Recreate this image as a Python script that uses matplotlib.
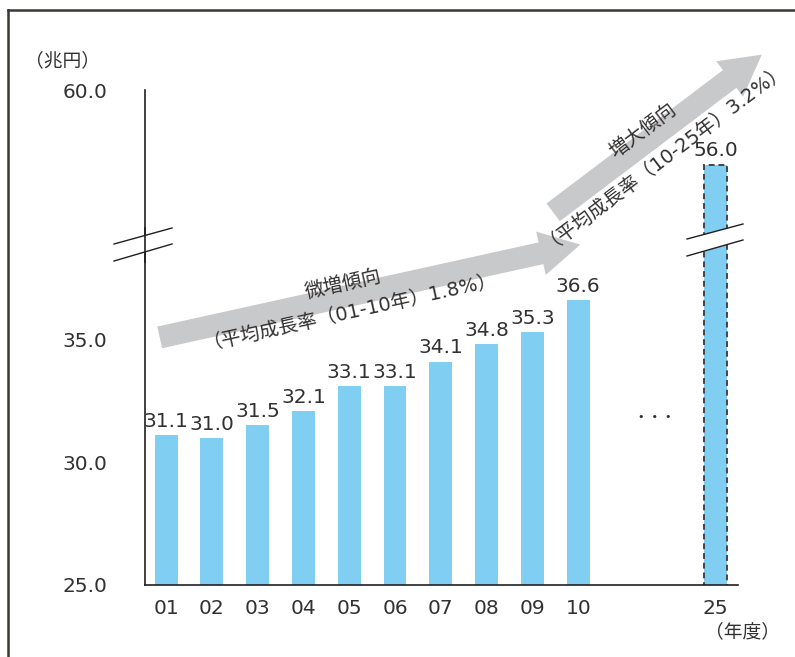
import numpy as np
import matplotlib
matplotlib.use('Agg')
import matplotlib.pyplot as plt
from matplotlib.patches import FancyArrowPatch, Polygon
from matplotlib.lines import Line2D

plt.rcParams['font.family'] = ['DejaVu Sans', 'Noto Sans CJK JP']

years = ['01', '02', '03', '04', '05', '06', '07', '08', '09', '10', '25']
values = [31.1, 31.0, 31.5, 32.1, 33.1, 33.1, 34.1, 34.8, 35.3, 36.6, 56.0]
ytick_vals = [25, 30, 35, 60]
ytick_labels = ['25.0', '30.0', '35.0', '60.0']
trend1 = ['微増傾向', '（平均成長率（01-10年）1.8%）']
trend2 = ['増大傾向', '（平均成長率（10-25年）3.2%）']

txt = '#333030'
bar_color = '#80cef2'
arrow_gray = '#c8c9ca'

W, H = 795, 657
fig = plt.figure(figsize=(W / 100, H / 100), dpi=100)


def fx(x):
    return x / W


def fy(y):
    return 1 - y / H


ax = fig.add_axes([fx(145), fy(585), fx(738) - fx(145), (585 - 90) / H])

# broken y scale: lower part linear, gap squeezed, upper part compressed
B, U, eps = 38.7, 51.5, 0.001
top_pos = 25 + (585 - 90) / 24.55
k = (top_pos - B - (U - B) * eps) / (60 - U)


def fwd(v):
    v = np.asarray(v, dtype=float)
    return np.where(v <= B, v,
                    np.where(v <= U, B + (v - B) * eps,
                             B + (U - B) * eps + (v - U) * k))


def inv(f):
    f = np.asarray(f, dtype=float)
    g = B + (U - B) * eps
    return np.where(f <= B, f,
                    np.where(f <= g, B + (f - B) / eps, U + (f - g) / k))


ax.set_yscale('function', functions=(fwd, inv))

pos = list(range(10)) + [12]
bars = ax.bar(pos, values, width=0.5, color=bar_color, zorder=2)
last = bars[-1]
last.set_edgecolor('#444444')
last.set_linestyle((0, (3, 2)))
last.set_linewidth(1.4)

for p, v in zip(pos, values):
    ax.annotate(f'{v:.1f}', (p, v), xytext=(0, 3), textcoords='offset points',
                ha='center', va='bottom', fontsize=14.5, color=txt)

ax.set_xlim(-0.46, 12.49)
ax.set_ylim(25, 60)
ax.set_yticks(ytick_vals)
ax.set_yticklabels(ytick_labels)
ax.set_xticks(pos)
ax.set_xticklabels(years)
ax.yaxis.set_minor_locator(matplotlib.ticker.NullLocator())
ax.tick_params(axis='y', length=0, pad=27, labelsize=14.5, labelcolor=txt)
ax.tick_params(axis='x', length=0, pad=10, labelsize=14.5, labelcolor=txt)
for s in ['top', 'right']:
    ax.spines[s].set_visible(False)
for s in ['left', 'bottom']:
    ax.spines[s].set_color('#231f20')
    ax.spines[s].set_linewidth(1.2)

ax.text(0.86, 0.34, '•  •  •', transform=ax.transAxes, ha='center', va='center',
        fontsize=8, color=txt)

# break marks
ax_break = [(114, 244, 172, 228), (114, 261, 172, 244)]
bar_break = [(687, 239, 743, 224), (687, 256, 743, 240)]
for (x0, y0, x1, y1), (x2, y2, x3, y3) in [ax_break, bar_break]:
    gap = Polygon([(fx(x0), fy(y0)), (fx(x1), fy(y1)), (fx(x3), fy(y3)), (fx(x2), fy(y2))],
                  closed=True, facecolor='white', edgecolor='none',
                  transform=fig.transFigure, zorder=5)
    fig.add_artist(gap)
    for a, b, c, d in [(x0, y0, x1, y1), (x2, y2, x3, y3)]:
        fig.add_artist(Line2D([fx(a), fx(c)], [fy(b), fy(d)], color='#231f20',
                              lw=1.0, transform=fig.transFigure, zorder=6))
# keep spine visible through the axis break
fig.add_artist(Line2D([fx(145), fx(145)], [fy(228), fy(262)], color='#231f20',
                      lw=1.2, transform=fig.transFigure, zorder=7))

# trend arrows
for (x0, y0, x1, y1) in [(157, 338, 583, 244), (551, 214, 764, 53)]:
    arr = FancyArrowPatch((fx(x0), fy(y0)), (fx(x1), fy(y1)), transform=fig.transFigure,
                          arrowstyle='simple,head_width=32,head_length=29,tail_width=16',
                          mutation_scale=1, color=arrow_gray, lw=0, zorder=3)
    fig.add_artist(arr)

fig.text(fx(343), fy(284), trend1[0], rotation=12.5, ha='center', va='center',
         fontsize=14, color=txt, rotation_mode='anchor', zorder=8)
fig.text(fx(350), fy(310), trend1[1], rotation=12.5, ha='center', va='center',
         fontsize=14, color=txt, rotation_mode='anchor', zorder=8)
fig.text(fx(643), fy(131), trend2[0], rotation=37, ha='center', va='center',
         fontsize=14, color=txt, rotation_mode='anchor', zorder=8)
fig.text(fx(662), fy(151), trend2[1], rotation=37, ha='center', va='center',
         fontsize=14, color=txt, rotation_mode='anchor', zorder=8)

fig.text(fx(62), fy(61), '（兆円）', ha='center', va='center', fontsize=13.5, color=txt)
fig.text(fx(743), fy(632), '（年度）', ha='center', va='center', fontsize=13.5, color=txt)

# outer frame: top and left rules
fig.add_artist(Line2D([fx(8), 1], [fy(10), fy(10)], color='#3a3632', lw=1.8,
                      transform=fig.transFigure))
fig.add_artist(Line2D([fx(8), fx(8)], [fy(10), 0], color='#3a3632', lw=1.8,
                      transform=fig.transFigure))

fig.savefig('out.png', dpi=100)
